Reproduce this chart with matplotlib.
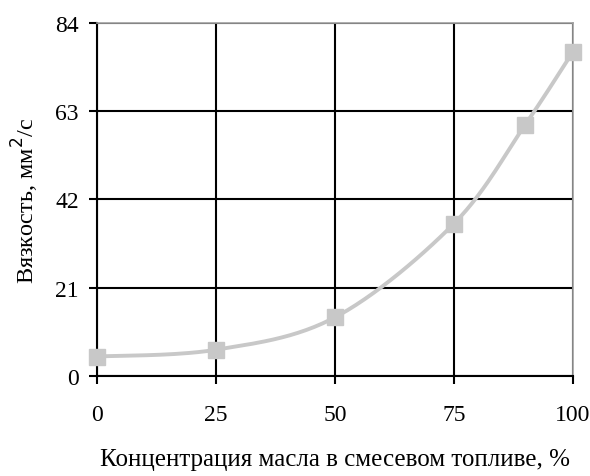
import matplotlib
matplotlib.use("Agg")
import matplotlib.pyplot as plt
import numpy as np

concentration = [0, 25, 50, 75, 90, 100]
viscosity = [4.6, 6.2, 13.9, 36.2, 59.8, 77.1]
x_ticks = [0, 25, 50, 75, 100]
y_ticks = [0, 21, 42, 63, 84]

plt.rcParams["font.family"] = ["Liberation Serif", "DejaVu Serif"]


def smooth(xs, ys, n=30, t=0.5):
    # Catmull-Rom style smoothing, similar to spreadsheet "smoothed line"
    xs = np.asarray(xs, float)
    ys = np.asarray(ys, float)
    px = np.concatenate([[xs[0]], xs, [xs[-1]]])
    py = np.concatenate([[ys[0]], ys, [ys[-1]]])
    out_x, out_y = [], []
    for i in range(1, len(px) - 2):
        p0 = np.array([px[i], py[i]])
        p3 = np.array([px[i + 1], py[i + 1]])
        p1 = p0 + (np.array([px[i + 1], py[i + 1]]) - np.array([px[i - 1], py[i - 1]])) * t / 3
        p2 = p3 - (np.array([px[i + 2], py[i + 2]]) - np.array([px[i], py[i]])) * t / 3
        s = np.linspace(0, 1, n)[:, None]
        b = (1 - s) ** 3 * p0 + 3 * (1 - s) ** 2 * s * p1 + 3 * (1 - s) * s ** 2 * p2 + s ** 3 * p3
        out_x.extend(b[:, 0])
        out_y.extend(b[:, 1])
    return np.array(out_x), np.array(out_y)


fig = plt.figure(figsize=(5.9, 4.77), dpi=100)
ax = fig.add_axes([0.164, 0.21, 0.807, 0.74])

sx, sy = smooth(concentration, viscosity)
ax.plot(sx, sy, color="#c8c8c8", linewidth=2.8, zorder=3, clip_on=False)
ax.plot(concentration, viscosity, linestyle="none", marker="s", markersize=11,
        color="#c8c8c8", zorder=4, clip_on=False)

ax.set_xlim(0, 100)
ax.set_ylim(0, 84)
ax.set_xticks(x_ticks)
ax.set_yticks(y_ticks)
ax.grid(True, color="black", linewidth=1.5)
ax.set_axisbelow(True)

for side in ("left", "bottom"):
    ax.spines[side].set_color("black")
    ax.spines[side].set_linewidth(1.5)
for side in ("top", "right"):
    ax.spines[side].set_color("#a0a0a0")
    ax.spines[side].set_linewidth(1.2)

ax.tick_params(axis="both", direction="out", length=6, width=1.5, labelsize=17, colors="black")
ax.tick_params(axis="x", pad=14)
ax.tick_params(axis="y", pad=7)

ax.set_xlabel("Концентрация масла в смесевом топливе, %", fontsize=18, labelpad=17)
ax.set_ylabel("Вязкость, мм$^2$/с", fontsize=17.5, labelpad=10)

fig.savefig("out.png", dpi=100)
